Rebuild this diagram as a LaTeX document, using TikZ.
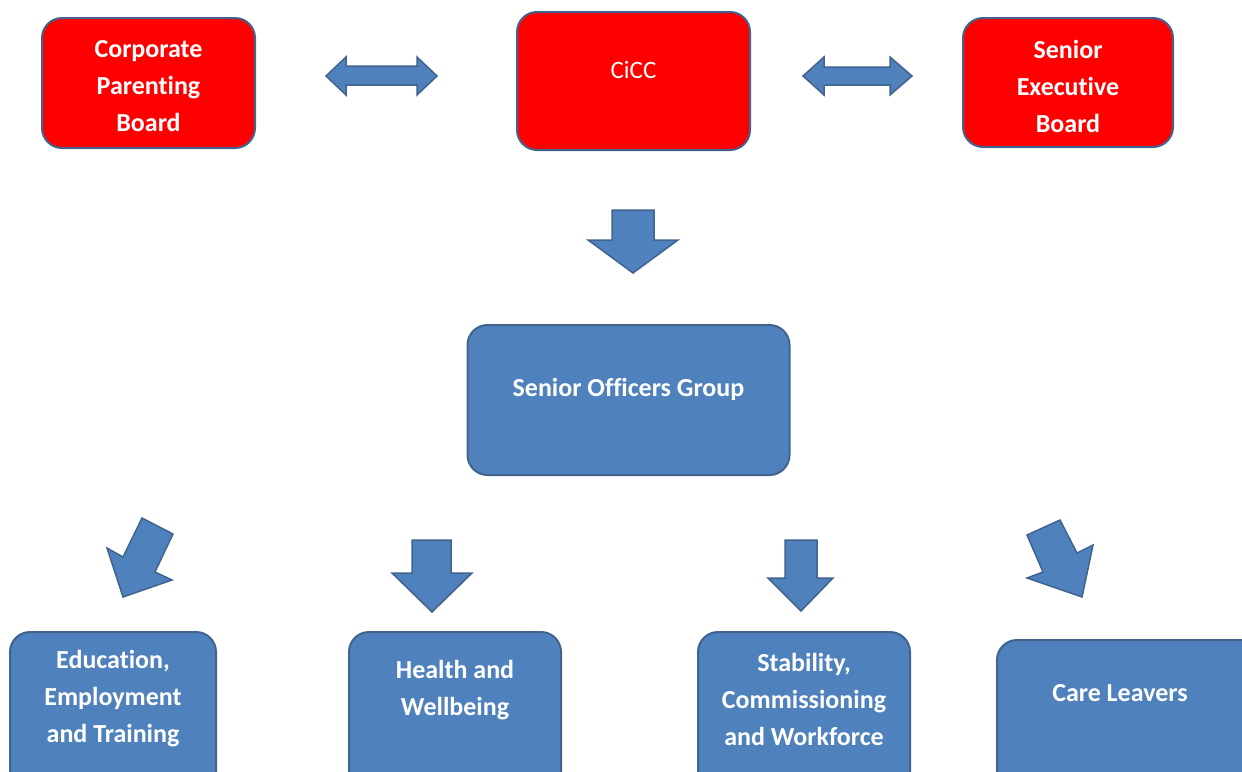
\documentclass[tikz,border=0pt]{standalone}
\usepackage{fontspec}
\setmainfont{Carlito}[Ligatures=NoCommon]
\definecolor{boxred}{HTML}{FF0000}
\definecolor{boxblue}{HTML}{4F81BD}
\definecolor{edgeblue}{HTML}{41648F}
\begin{document}
\begin{tikzpicture}[x=1pt,y=-1pt,
  box/.style={draw=edgeblue, line width=2pt, rounded corners=20pt, inner sep=0pt},
  redbox/.style={box, fill=boxred},
  bluebox/.style={box, fill=boxblue},
  txt/.style={text=white, font=\fontsize{26}{37}\selectfont\bfseries, align=center, inner sep=0pt},
  blockarrow/.style={draw=edgeblue, line width=1.5pt, fill=boxblue, line join=miter}]
\useasboundingbox (0,0) rectangle (1242,771);
\begin{scope}
\clip (0,0) rectangle (1242,771);
% top boxes
\node[redbox, minimum width=213pt, minimum height=130pt] (cpb) at (148.5,83) {};
\node[txt] (cpbt) at (148.5,86) {Corporate\\Parenting\\Board};
\node[redbox, minimum width=233pt, minimum height=138pt] (cicc) at (633.5,81) {};
\node[txt, font=\fontsize{25}{37}\selectfont] (ciccT) at (633.5,70) {CiCC};
\node[redbox, minimum width=210pt, minimum height=129pt] (seb) at (1068,82.5) {};
\node[txt] (sebt) at (1068,86) {Senior\\Executive\\Board};
% middle box
\node[bluebox, minimum width=322pt, minimum height=150pt] (sog) at (628.5,400) {};
\node[txt] (sogt) at (628.5,389) {Senior Officers Group};
% bottom boxes
\node[bluebox, minimum width=206pt, minimum height=200pt] (eet) at (113,732) {};
\node[txt] (eett) at (113,699) {Education,\\Employment\\and Training};
\node[bluebox, minimum width=212pt, minimum height=200pt] (hw) at (455,732) {};
\node[txt] (hwt) at (455,690) {Health and\\Wellbeing};
\node[bluebox, minimum width=212pt, minimum height=200pt] (scw) at (804,732) {};
\node[txt] (scwt) at (804,699) {Stability,\\Commissioning\\and Workforce};
\node[bluebox, minimum width=300pt, minimum height=200pt] (cl) at (1147,740) {};
\node[txt] (clt) at (1120,693) {Care Leavers};
% double arrows
\draw[blockarrow] (326,76) -- (346,57) -- (346,66) -- (417,66) -- (417,57) -- (437,76)
  -- (417,95) -- (417,85) -- (346,85) -- (346,95) -- cycle;
\draw[blockarrow] (803,76) -- (824,57) -- (824,67) -- (890,67) -- (890,57) -- (912,76)
  -- (890,95) -- (890,85) -- (824,85) -- (824,95) -- cycle;
% down arrow from CiCC
\draw[blockarrow] (612,210) -- (654,210) -- (654,240) -- (678,240) -- (633,273)
  -- (588,240) -- (612,240) -- cycle;
% bottom arrows
\draw[blockarrow] (142,518) -- (173,534) -- (155,572) -- (172,580) -- (123,597)
  -- (107,548) -- (123,557) -- cycle;
\draw[blockarrow] (412,540) -- (451,540) -- (451,573) -- (472,573) -- (432,612)
  -- (392,573) -- (412,573) -- cycle;
\draw[blockarrow] (785,540) -- (817,540) -- (817,578) -- (833,578) -- (801,611)
  -- (768,578) -- (785,578) -- cycle;
\draw[blockarrow] (1027,535) -- (1060,520) -- (1077,553) -- (1093,545) -- (1082,597)
  -- (1027,578) -- (1043,572) -- cycle;
\end{scope}
\end{tikzpicture}
\end{document}
